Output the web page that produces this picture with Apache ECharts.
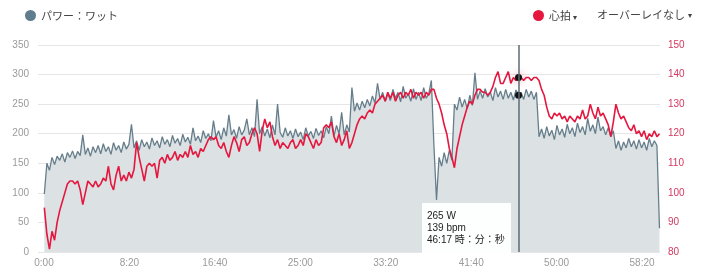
<!DOCTYPE html>
<html>
<head>
<meta charset="utf-8">
<script src="https://cdn.jsdelivr.net/npm/echarts@6/dist/echarts.min.js"></script>
<style>
  html, body { margin: 0; padding: 0; background: #fff; }
  #chart { width: 710px; height: 280px; }
</style>
</head>
<body>
<div id="chart"></div>
<script>
// ---- data ----
const sampleStartSec = 2;      // first sample time (s)
const sampleStepSec = 15;      // sampling step (s)
const xTickValues = [0, 500, 1000, 1500, 2000, 2500, 3000, 3500];
const powerTicks = [0, 50, 100, 150, 200, 250, 300, 350];
const hrTicks = [80, 90, 100, 110, 120, 130, 140, 150];
const cursorTimeSec = 2777;    // 46:17

const powerWatts = [
  98,150,138,160,148,162,155,166,152,168,160,171,158,170,163,198,165,176,162,178,
  168,180,166,183,170,178,165,185,172,180,168,186,174,182,216,176,188,172,190,178,
  186,174,193,180,188,176,195,182,190,178,197,184,192,180,199,186,194,182,210,188,
  196,185,205,192,200,188,222,194,205,190,210,196,232,198,207,192,212,198,206,225,
  198,210,195,258,200,212,196,208,193,215,198,250,202,194,210,196,205,192,208,195,
  203,190,210,196,204,192,209,197,205,193,212,200,230,196,214,200,236,198,215,203,
  278,238,252,240,255,244,258,247,264,252,285,258,270,255,268,256,275,260,270,254,
  280,260,268,255,276,258,270,256,278,260,268,290,180,88,160,145,168,150,172,155,
  250,240,262,245,258,242,265,248,303,258,272,260,276,262,270,256,278,262,272,258,
  275,260,270,257,274,265,270,258,275,262,272,258,270,195,208,192,212,196,206,190,
  214,198,208,194,216,200,210,195,218,202,212,198,226,204,215,200,228,205,212,198,
  210,195,205,175,188,172,186,176,192,178,188,174,190,176,186,172,192,178,188,180,
  40
];

const heartRateBpm = [
  95,86,81,87,84,90,94,97,100,103,104,104,103,104,101,96,100,104,103,102,
  104,102,103,105,104,109,103,101,106,109,104,106,104,107,105,108,117,112,108,104,
  109,110,109,110,105,111,112,110,113,111,112,114,111,113,112,114,112,116,113,114,
  112,115,114,116,118,119,118,119,116,115,117,114,112,116,119,117,114,118,119,116,
  117,120,122,120,114,121,125,122,124,119,116,118,115,117,116,115,117,118,115,116,
  118,116,120,119,117,115,118,116,117,122,123,122,124,119,117,120,116,118,121,115,
  117,120,123,125,126,125,127,128,127,130,131,132,133,131,134,132,134,131,133,134,
  132,134,133,135,132,134,133,134,132,134,133,135,135,132,130,127,123,120,115,112,
  108.5,115,119,123,126,129,131,130,133,135,135,134,134,133,134,136,139,141,137,137,
  139,141,137,139,138,139,139,138,139,139,138,139,139,138,135,133,129,126,125,127,
  126,127,125,126,124,126,125,124,126,125,128,125,126,130,127,125,129,126,127,125,
  123,119,124,130,127,125,126,124,122,121,123,120,121,119,121,118,120,119,121,119,
  120
];

// ---- build series data ----
function pairs(values) {
  return values.map((v, i) => [sampleStartSec + i * sampleStepSec, v]);
}
function fmtTime(sec) {
  sec = Math.round(sec);
  const m = Math.floor(sec / 60);
  const s = sec % 60;
  return m + ':' + (s < 10 ? '0' : '') + s;
}

const POWER_NAME = 'パワー：ワット';
const HR_NAME = '心拍';
const FONT = "'Liberation Sans', 'Noto Sans CJK JP', sans-serif";
const JP_FONT = "'Noto Sans CJK JP', sans-serif";
const powerColor = '#667e8b';
const powerLegendColor = '#5f7d8c';
const hrColor = '#e5173f';

const chart = echarts.init(document.getElementById('chart'), null, { renderer: 'canvas' });

const option = {
  animation: false,
  backgroundColor: '#fff',
  textStyle: { fontFamily: FONT },
  grid: { left: 38, right: 50, top: 45, bottom: 28, containLabel: false },
  legend: [
    {
      data: [{ name: POWER_NAME, icon: 'circle', itemStyle: { color: powerLegendColor } }],
      left: 20, top: 5, itemWidth: 11, itemHeight: 11, itemGap: 4,
      selectedMode: false,
      textStyle: { fontSize: 11, color: '#444', fontFamily: JP_FONT }
    },
    {
      data: [{ name: HR_NAME, icon: 'circle', itemStyle: { color: hrColor } }],
      left: 528, top: 5, itemWidth: 11, itemHeight: 11,
      selectedMode: false,
      formatter: '{a|心拍}{b|▾}',
      textStyle: {
        fontSize: 11, color: '#444', fontFamily: JP_FONT,
        rich: {
          a: { fontSize: 11, color: '#444', fontFamily: JP_FONT },
          b: { fontSize: 8, color: '#444', padding: [3, 0, 0, 2] }
        }
      }
    }
  ],
  graphic: [
    {
      type: 'text', left: 597, top: 9,
      style: {
        text: '{a|オーバーレイなし}{b|▾}',
        rich: {
          a: { fontSize: 11, fill: '#444', fontFamily: JP_FONT },
          b: { fontSize: 8, fill: '#444', padding: [3, 0, 0, 3] }
        }
      }
    }
  ],
  tooltip: {
    trigger: 'axis',
    transitionDuration: 0,
    showDelay: 0,
    hideDelay: 100000,
    alwaysShowContent: true,
    backgroundColor: 'rgba(255,255,255,0.94)',
    borderWidth: 0,
    padding: [7, 6, 7, 5],
    textStyle: { fontSize: 10, color: '#222', fontFamily: FONT },
    extraCssText: 'box-shadow:none;border-radius:0;line-height:12px;',
    axisPointer: {
      type: 'line',
      lineStyle: { color: '#5d6b75', width: 1.5, type: 'solid' },
      label: { show: false }
    },
    position: function () { return [422, 203]; },
    formatter: function (params) {
      let p = null, h = null, t = null;
      params.forEach(function (q) {
        if (q.seriesName === POWER_NAME) p = q.value[1];
        if (q.seriesName === HR_NAME) h = q.value[1];
        t = q.value[0];
      });
      return p + ' W<br/>' + h + ' bpm<br/>' + fmtTime(t) + ' 時：分：秒';
    }
  },
  xAxis: {
    type: 'value',
    min: -35,
    max: 3605,
    axisLine: { show: false },
    axisTick: { show: false },
    splitLine: { show: false },
    axisLabel: {
      customValues: xTickValues,
      formatter: function (v) { return fmtTime(v); },
      color: '#9a9a9a', fontSize: 10, margin: 6, fontFamily: FONT
    }
  },
  yAxis: [
    {
      type: 'value', min: powerTicks[0], max: powerTicks[powerTicks.length - 1], interval: 50,
      axisLine: { show: false }, axisTick: { show: false },
      axisLabel: { color: '#9a9a9a', fontSize: 10, margin: 9, fontFamily: FONT },
      splitLine: { lineStyle: { color: '#e6e6e6', width: 1 } }
    },
    {
      type: 'value', min: hrTicks[0], max: hrTicks[hrTicks.length - 1], interval: 10,
      position: 'right',
      axisLine: { show: false }, axisTick: { show: false },
      axisLabel: { color: '#d4385f', fontSize: 10, margin: 8, fontFamily: FONT },
      splitLine: { show: false }
    }
  ],
  series: [
    {
      name: POWER_NAME, type: 'line', yAxisIndex: 0,
      data: pairs(powerWatts),
      showSymbol: false, symbol: 'circle', symbolSize: 7,
      lineStyle: { color: powerColor, width: 1.3 },
      itemStyle: { color: powerColor },
      areaStyle: { color: '#dce1e4', opacity: 1 },
      emphasis: {
        focus: 'none', scale: false,
        lineStyle: { color: powerColor, width: 1.3 },
        areaStyle: { color: '#dce1e4', opacity: 1 },
        itemStyle: { color: '#111', borderWidth: 0 }
      },
      z: 2
    },
    {
      name: HR_NAME, type: 'line', yAxisIndex: 1,
      data: pairs(heartRateBpm),
      showSymbol: false, symbol: 'circle', symbolSize: 7,
      lineStyle: { color: hrColor, width: 1.6 },
      itemStyle: { color: hrColor },
      emphasis: {
        focus: 'none', scale: false,
        lineStyle: { color: hrColor, width: 1.6 },
        itemStyle: { color: '#111', borderWidth: 0, shadowBlur: 8, shadowColor: 'rgba(229,23,63,0.55)' }
      },
      z: 3
    }
  ]
};

chart.setOption(option);

function showCursor() {
  const px = chart.convertToPixel({ xAxisIndex: 0 }, cursorTimeSec);
  chart.dispatchAction({ type: 'showTip', x: px, y: 150 });
}
showCursor();
setTimeout(showCursor, 50);
</script>
</body>
</html>
